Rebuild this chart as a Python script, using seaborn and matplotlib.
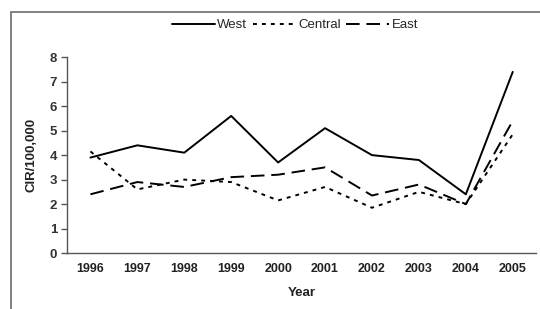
import pandas as pd
import seaborn as sns
import matplotlib.pyplot as plt
from matplotlib.patches import Rectangle

years = ["1996", "1997", "1998", "1999", "2000", "2001", "2002", "2003", "2004", "2005"]
west = [3.9, 4.4, 4.1, 5.6, 3.7, 5.1, 4.0, 3.8, 2.4, 7.4]
central = [4.15, 2.6, 3.0, 2.9, 2.15, 2.7, 1.85, 2.5, 2.0, 4.85]
east = [2.4, 2.9, 2.7, 3.1, 3.2, 3.5, 2.35, 2.8, 2.0, 5.4]
regions = ["West", "Central", "East"]

data = pd.DataFrame({
    "Year": years * 3,
    "CIR": west + central + east,
    "Region": [r for r in regions for _ in years],
})

sns.set_theme(style="white")
plt.rcParams["font.family"] = ["Liberation Sans", "DejaVu Sans"]

fig = plt.figure(figsize=(5.4, 3.09), dpi=100)
ax = fig.add_axes([0.124, 0.181, 0.869, 0.634])

sns.lineplot(data=data, x="Year", y="CIR", hue="Region", style="Region",
             palette={"West": "black", "Central": "black", "East": "black"},
             dashes={"West": "", "Central": (2, 2.6), "East": (7, 3.5)},
             linewidth=1.4, sort=False, ax=ax, legend=True)

ax.set_ylim(0, 8)
ax.set_xlim(-0.5, 9.5)
ax.set_yticks(range(0, 9))
ax.set_xticks([i - 0.5 for i in range(1, 10)], minor=True)
ax.set_xticks(range(len(years)))
ax.set_xticklabels(years, fontweight="bold", fontsize=9, color="#222222")
ax.tick_params(axis="x", which="major", length=0, pad=7)
ax.tick_params(axis="x", which="minor", direction="in", length=4, width=1, color="#555555")
ax.tick_params(axis="y", direction="out", length=4, width=1, color="#555555",
               left=True, labelsize=9.5, labelcolor="#333333", pad=3)
for t in ax.get_yticklabels():
    t.set_fontweight("bold")

for side in ["top", "right"]:
    ax.spines[side].set_visible(False)
for side in ["left", "bottom"]:
    ax.spines[side].set_color("#555555")
    ax.spines[side].set_linewidth(1.0)

ax.set_xlabel("Year", fontweight="bold", fontsize=9.5, labelpad=9, color="#222222")
ax.set_ylabel("CIR/100,000", fontweight="bold", fontsize=9.5, labelpad=9, color="#222222")

handles, labels = ax.get_legend_handles_labels()
ax.legend(handles, labels, loc="center", bbox_to_anchor=(0.546, 0.919),
          bbox_transform=fig.transFigure, ncol=3, frameon=False, fontsize=9.5,
          handlelength=3.3, handletextpad=0.15, columnspacing=0.4)

fig.add_artist(Rectangle((0.02, -0.1), 1.1, 1.061, transform=fig.transFigure,
                         fill=False, edgecolor="#777777", linewidth=1.3))

fig.savefig("out.png", dpi=100)
